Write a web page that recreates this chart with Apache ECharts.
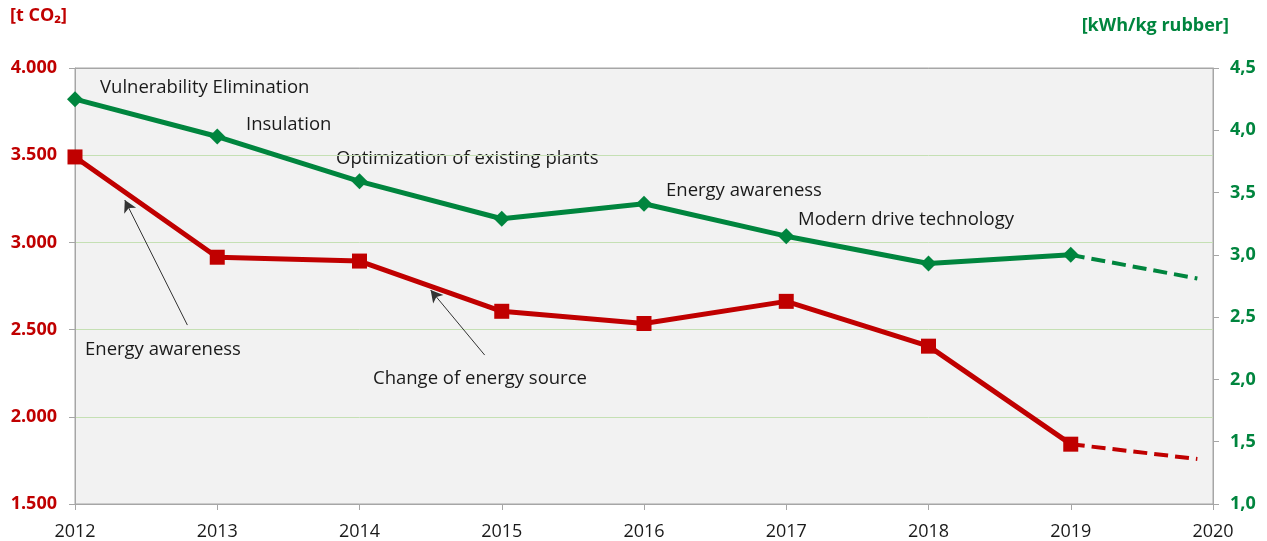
<!DOCTYPE html>
<html>
<head>
<meta charset="utf-8">
<script src="https://cdn.jsdelivr.net/npm/echarts@6/dist/echarts.min.js"></script>
<style>
  html, body { margin: 0; padding: 0; background: #fff; }
  #chart { width: 1267px; height: 541px; }
</style>
</head>
<body>
<div id="chart"></div>
<script>
const years = [2012, 2013, 2014, 2015, 2016, 2017, 2018, 2019]
const co2 = [3490, 2915, 2893, 2605, 2535, 2662, 2405, 1843]
const energy = [4.25, 3.95, 3.59, 3.29, 3.41, 3.15, 2.93, 3.0]
// forecast (dashed) from last year to end
const co2Forecast = [[2019, 1843], [2019.89, 1758]]
const energyForecast = [[2019, 3.0], [2019.89, 2.81]]

const RED = '#c00000'
const GREEN = '#00853e'
const FONT = 'Open Sans'

const notes = [
  { text: 'Vulnerability Elimination', x: 100, y: 86 },
  { text: 'Insulation', x: 246, y: 123 },
  { text: 'Optimization of existing plants', x: 336, y: 157 },
  { text: 'Energy awareness', x: 666, y: 189 },
  { text: 'Modern drive technology', x: 798, y: 218 },
  { text: 'Energy awareness', x: 85, y: 348 },
  { text: 'Change of energy source', x: 373, y: 377 }
]
// arrows in data coords: [fromX, fromY] -> [toX, toY]
const arrows = [
  [[2012.79, 2526], [2012.35, 3243]],
  [[2014.88, 2354], [2014.50, 2727]]
]

const chart = echarts.init(document.getElementById('chart'))
const option = {
  animation: false,
  grid: {
    left: 75, right: 54, top: 68, bottom: 37,
    show: true, backgroundColor: '#f2f2f2', borderColor: '#a6a6a6', borderWidth: 1
  },
  xAxis: [{
    type: 'value', min: 2012, max: 2020, interval: 1,
    axisLine: { lineStyle: { color: '#a6a6a6' } },
    axisTick: { show: true, length: 6, lineStyle: { color: '#a6a6a6' } },
    axisLabel: { color: '#1a1a1a', fontFamily: FONT, fontSize: 18, margin: 19, formatter: v => String(v) },
    splitLine: { show: false }
  }, {
    // top frame line only
    type: 'value', position: 'top', min: 2012, max: 2020, interval: 1,
    axisLine: { show: true, lineStyle: { color: '#a6a6a6' } },
    axisTick: { show: false }, axisLabel: { show: false }, splitLine: { show: false }
  }],
  yAxis: [{
    type: 'value', min: 1500, max: 4000, interval: 500, position: 'left',
    axisLine: { show: true, lineStyle: { color: '#a6a6a6' } },
    axisTick: { show: true, length: 6, lineStyle: { color: '#a6a6a6' } },
    axisLabel: {
      color: RED, fontFamily: FONT, fontSize: 18, fontWeight: 'bold', margin: 18,
      formatter: v => (v / 1000).toFixed(3)
    },
    splitLine: { lineStyle: { color: '#c5e0b4', width: 1 } }
  }, {
    type: 'value', min: 1, max: 4.5, interval: 0.5, position: 'right',
    axisLine: { show: true, lineStyle: { color: '#a6a6a6' } },
    axisTick: { show: true, length: 6, lineStyle: { color: '#a6a6a6' } },
    axisLabel: {
      color: GREEN, fontFamily: FONT, fontSize: 18, fontWeight: 'bold', margin: 17,
      formatter: v => v.toFixed(1).replace('.', ',')
    },
    splitLine: { show: false }
  }],
  series: [{
    name: 'co2', type: 'line', yAxisIndex: 0,
    data: years.map((y, i) => [y, co2[i]]),
    symbol: 'rect', symbolSize: 15,
    lineStyle: { color: RED, width: 5 }, itemStyle: { color: RED },
    markLine: {
      silent: true, symbol: ['none', 'arrow'], symbolSize: [10, 12],
      lineStyle: { color: '#333', width: 1, type: 'solid' }, label: { show: false },
      data: arrows.map(a => [{ coord: a[0] }, { coord: a[1] }])
    }
  }, {
    name: 'co2-forecast', type: 'line', yAxisIndex: 0, data: co2Forecast,
    showSymbol: false, lineStyle: { color: RED, width: 4, type: [14, 7] }
  }, {
    name: 'energy', type: 'line', yAxisIndex: 1,
    data: years.map((y, i) => [y, energy[i]]),
    symbol: 'diamond', symbolSize: 16,
    lineStyle: { color: GREEN, width: 5 }, itemStyle: { color: GREEN }
  }, {
    name: 'energy-forecast', type: 'line', yAxisIndex: 1, data: energyForecast,
    showSymbol: false, lineStyle: { color: GREEN, width: 4, type: [14, 7] }
  }],
  graphic: [
    {
      type: 'text', left: 10, top: 7,
      style: { text: '[t CO₂]', fill: RED, font: 'bold 18px "Open Sans"' }
    },
    {
      type: 'text', right: 38, top: 17,
      style: { text: '[kWh/kg rubber]', fill: GREEN, font: 'bold 18px "Open Sans"' }
    }
  ].concat(notes.map(n => ({
    type: 'text', left: n.x, top: n.y - 8,
    style: { text: n.text, fill: '#1a1a1a', font: '18.5px "Open Sans"' }
  })))
}
chart.setOption(option)
</script>
</body>
</html>
